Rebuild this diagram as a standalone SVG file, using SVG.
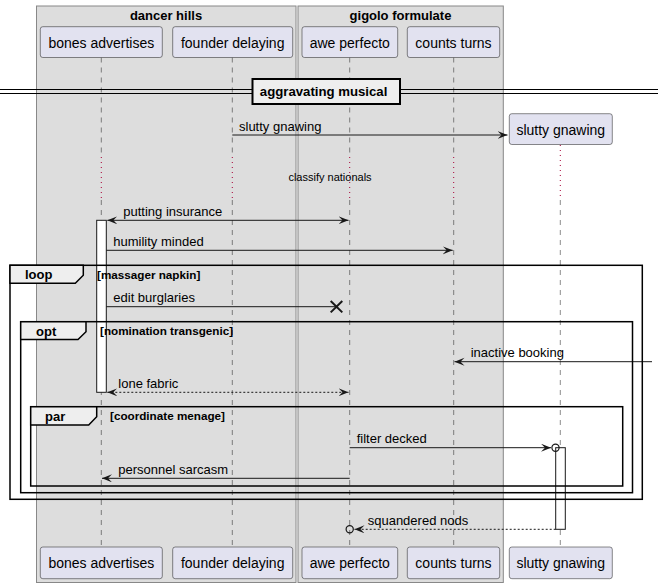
<svg xmlns="http://www.w3.org/2000/svg" width="658" height="588" viewBox="0 0 658 588">
<defs>
<style>
.grp{fill:#DDDDDD;stroke:#888888;stroke-width:1}
.gt{font-family:"Liberation Sans",Arial,sans-serif;font-size:13px;font-weight:bold;fill:#000;text-anchor:middle}
.part{fill:#E2E2F0;stroke:#181818;stroke-width:0.5}
.pt{font-family:"Liberation Sans",Arial,sans-serif;font-size:14px;fill:#000;text-anchor:middle}
.life{stroke:#181818;stroke-width:0.5;stroke-dasharray:5,5;fill:none}
.dly{stroke:#A80036;stroke-width:1;stroke-dasharray:1,4;fill:none}
.act{fill:#FFFFFF;stroke:#181818;stroke-width:1}
.msg{stroke:#181818;stroke-width:1;fill:none}
.dash{stroke-dasharray:2,2}
.arr{marker-end:url(#ah)}
.arrs{marker-start:url(#ah)}
.mt{font-family:"Liberation Sans",Arial,sans-serif;font-size:13px;fill:#000}
.st{font-family:"Liberation Sans",Arial,sans-serif;font-size:11px;fill:#000}
.frm{fill:none;stroke:#000;stroke-width:1.5}
.tab{fill:#EEEEEE;stroke:#000;stroke-width:1.5}
.ft{font-family:"Liberation Sans",Arial,sans-serif;font-size:13px;font-weight:bold;fill:#000}
.ct{font-family:"Liberation Sans",Arial,sans-serif;font-size:11.7px;font-weight:bold;fill:#000}
.circ{fill:none;stroke:#181818;stroke-width:1.2}
</style>
<marker id="ah" markerUnits="userSpaceOnUse" markerWidth="11" markerHeight="9" refX="10" refY="4" orient="auto-start-reverse" viewBox="0 0 11 9">
<path d="M0,0 L10,4 L0,8 L4,4 Z" fill="#181818"/>
</marker>
</defs>
<rect width="658" height="588" fill="#FFFFFF"/>

<g id="box-dancer-hills">
<rect class="grp" x="36.5" y="6" width="259.5" height="576.5"/>
<text class="gt" x="166" y="20">dancer hills</text>
</g>
<g id="box-gigolo-formulate">
<rect class="grp" x="298" y="6" width="205.3" height="576.5"/>
<text class="gt" x="400.5" y="20">gigolo formulate</text>
</g>

<g id="lifelines">
<path class="life" d="M101.3,57.5 V157 M101.3,200 V547"/>
<path class="dly" d="M101.3,157 V200"/>
<path class="life" d="M232.3,57.5 V157 M232.3,200 V547"/>
<path class="dly" d="M232.3,157 V200"/>
<path class="life" d="M349.7,57.5 V157 M349.7,200 V547"/>
<path class="dly" d="M349.7,157 V200"/>
<path class="life" d="M453.7,57.5 V157 M453.7,200 V547"/>
<path class="dly" d="M453.7,157 V200"/>
<path class="dly" d="M560.3,145 V200"/>
<path class="life" d="M560.3,200 V547"/>
</g>

<g id="divider">
<line x1="0" y1="89.5" x2="658" y2="89.5" stroke="#000" stroke-width="1"/>
<line x1="0" y1="93.5" x2="658" y2="93.5" stroke="#000" stroke-width="1"/>
<rect x="252.5" y="79" width="147.5" height="25" fill="#EEEEEE" stroke="#000" stroke-width="2"/>
<text class="gt" x="323.6" y="96" style="font-size:13.2px">aggravating musical</text>
</g>

<g id="bones-advertises">
<rect class="part" x="40.3" y="26.7" width="122" height="30.8" rx="2.5"/>
<text class="pt" x="101.3" y="47.5">bones advertises</text>
<rect class="part" x="40.3" y="547" width="122" height="31.7" rx="2.5"/>
<text class="pt" x="101.3" y="567.7">bones advertises</text>
</g>
<g id="founder-delaying">
<rect class="part" x="172.7" y="26.7" width="120" height="30.8" rx="2.5"/>
<text class="pt" x="232.7" y="47.5">founder delaying</text>
<rect class="part" x="172.7" y="547" width="120" height="31.7" rx="2.5"/>
<text class="pt" x="232.7" y="567.7">founder delaying</text>
</g>
<g id="awe-perfecto">
<rect class="part" x="302" y="26.7" width="95.7" height="30.8" rx="2.5"/>
<text class="pt" x="349.8" y="47.5">awe perfecto</text>
<rect class="part" x="302" y="547" width="95.7" height="31.7" rx="2.5"/>
<text class="pt" x="349.8" y="567.7">awe perfecto</text>
</g>
<g id="counts-turns">
<rect class="part" x="407.3" y="26.7" width="92.4" height="30.8" rx="2.5"/>
<text class="pt" x="453.5" y="47.5">counts turns</text>
<rect class="part" x="407.3" y="547" width="92.4" height="31.7" rx="2.5"/>
<text class="pt" x="453.5" y="567.7">counts turns</text>
</g>
<g id="slutty-gnawing">
<rect class="part" x="509.3" y="113.7" width="103" height="30.8" rx="2.5"/>
<text class="pt" x="560.8" y="134.5">slutty gnawing</text>
<rect class="part" x="509.3" y="547" width="103" height="31.7" rx="2.5"/>
<text class="pt" x="560.8" y="567.7">slutty gnawing</text>
</g>

<g id="activations">
<rect class="act" x="96.7" y="220.3" width="9.6" height="172"/>
<rect class="act" x="555.7" y="447.7" width="9.6" height="81.6"/>
</g>

<g id="connectors">
<line class="msg arr" x1="232.3" y1="135" x2="507.5" y2="135"/>
<text class="mt" x="239" y="130.5">slutty gnawing</text>

<text class="st" x="330" y="181" text-anchor="middle">classify nationals</text>

<line class="msg arr arrs" x1="107.3" y1="220.3" x2="348.5" y2="220.3"/>
<text class="mt" x="123.3" y="216">putting insurance</text>

<line class="msg arr" x1="106.3" y1="250.3" x2="452.7" y2="250.3"/>
<text class="mt" x="113.3" y="246">humility minded</text>

<line class="msg" x1="106.3" y1="306.7" x2="336.5" y2="306.7"/>
<path d="M330.7,301 L342.3,312.4 M342.3,301 L330.7,312.4" stroke="#181818" stroke-width="2" fill="none"/>
<text class="mt" x="113.3" y="301.5">edit burglaries</text>

<line class="msg arr" x1="652" y1="361.7" x2="454.5" y2="361.7"/>
<text class="mt" x="470.7" y="357.3">inactive booking</text>

<line class="msg dash arr arrs" x1="107.3" y1="392.3" x2="348.5" y2="392.3"/>
<text class="mt" x="118.3" y="387.5">lone fabric</text>

<line class="msg arr" x1="349.7" y1="447.7" x2="551" y2="447.7"/>
<circle class="circ" cx="555.5" cy="447.7" r="3.6"/>
<text class="mt" x="356.7" y="443.3">filter decked</text>

<line class="msg arr" x1="349.7" y1="478.3" x2="102" y2="478.3"/>
<text class="mt" x="118.3" y="473.5">personnel sarcasm</text>

<line class="msg dash arr" x1="555.7" y1="529.3" x2="354.5" y2="529.3"/>
<circle class="circ" cx="349.7" cy="529.3" r="3.6"/>
<text class="mt" x="367.7" y="525">squandered nods</text>
</g>

<g id="frame-loop">
<rect class="frm" x="10" y="265.3" width="632.3" height="234"/>
<path class="tab" d="M10,265.3 H83.3 V275.3 L75.3,283.3 H10 Z"/>
<text class="ft" x="25" y="279">loop</text>
<text class="ct" x="97" y="278.5">[massager napkin]</text>
</g>
<g id="frame-opt">
<rect class="frm" x="20.7" y="321.7" width="611.8" height="171"/>
<path class="tab" d="M20.7,321.7 H86 V331.7 L78,339.5 H20.7 Z"/>
<text class="ft" x="36" y="335.5">opt</text>
<text class="ct" x="100" y="334.5">[nomination transgenic]</text>
</g>
<g id="frame-par">
<rect class="frm" x="30.7" y="406.7" width="592" height="79.3"/>
<path class="tab" d="M30.7,406.7 H96.7 V416.7 L88.7,425 H30.7 Z"/>
<text class="ft" x="45" y="420.5">par</text>
<text class="ct" x="110" y="420">[coordinate menage]</text>
</g>
</svg>
